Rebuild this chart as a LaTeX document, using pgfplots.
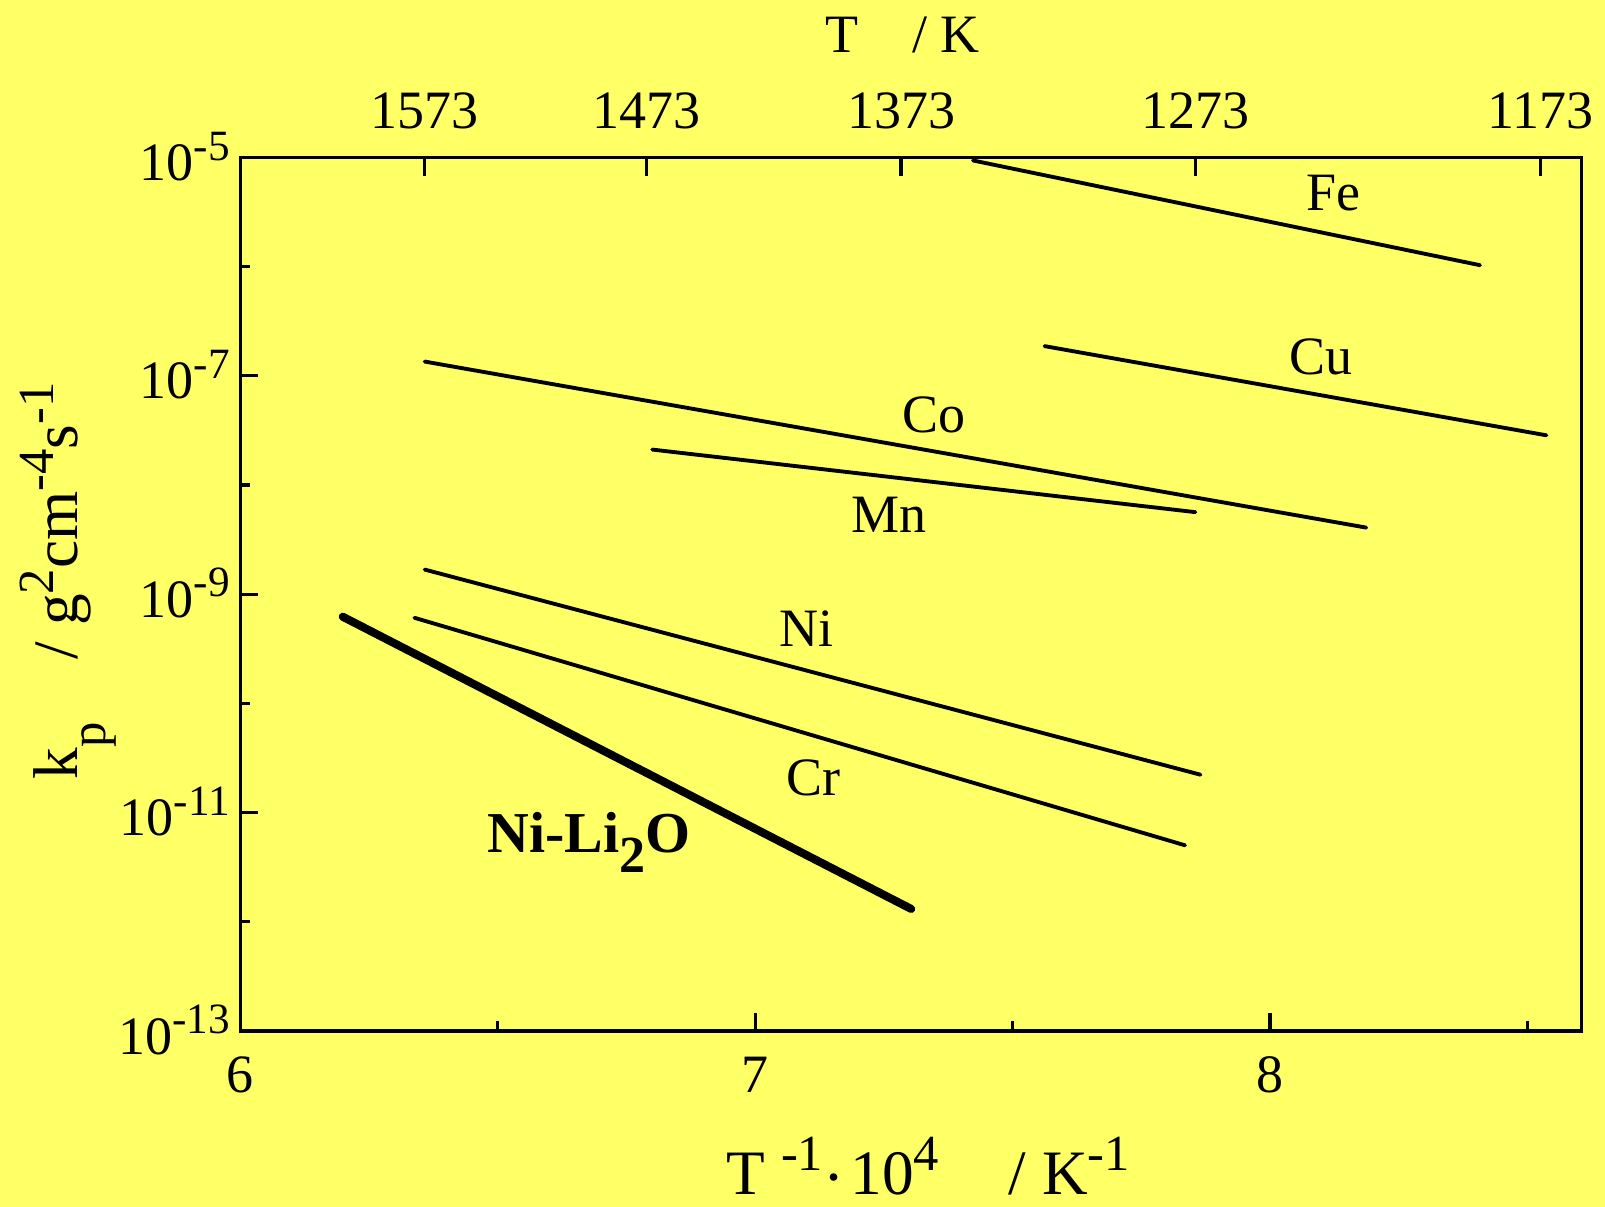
\documentclass[border=0pt]{standalone}
\usepackage{fontspec}
\setmainfont{Liberation Serif}
\usepackage{graphicx}
\usepackage{pgfplots}
\pgfplotsset{compat=1.18}
\definecolor{bg}{RGB}{255,255,102}
\newcommand{\sups}[1]{\raisebox{0.38em}{\scalebox{0.8}{#1}}}
\newcommand{\tp}[1]{10\sups{#1}}
\begin{document}
\fontsize{14}{16}\selectfont
\begin{tikzpicture}
\fill[bg] (-62.3pt,-45.6pt) rectangle (353.7pt,267.2pt);
\begin{axis}[
  scale only axis, width=347.6pt, height=226.4pt,
  xmin=6, xmax=8.605, ymode=log, ymin=1e-13, ymax=1e-5,
  tick pos=left, tick align=inside,
  major tick length=4.7pt, minor tick length=2.5pt,
  xtick={6,7,8}, xticklabels={6,7,8}, minor xtick={6.5,7.5,8.5},
  ytick={1e-13,1e-11,1e-9,1e-7,1e-5},
  yticklabels={\tp{-13},\tp{-11},\tp{-9},\tp{-7},\tp{-5}},
  minor ytick={1e-12,1e-10,1e-8,1e-6},
  axis line style={line width=0.85pt},
  every tick/.style={line width=0.85pt, black},
  xticklabel style={anchor=base, yshift=-15.9pt, inner sep=0pt},
  yticklabel style={anchor=base east, xshift=-2.5pt, yshift=-6pt, inner sep=0pt},
  xlabel={T\hspace{0.25em}\sups{-1}\raisebox{-0.06em}{·}\hspace{0.1em}10\sups{4}\hspace{1.1em}/ K\sups{-1}},
  xlabel style={at={(axis description cs:0.513,-0.187)}, anchor=base, inner sep=0pt, font=\fontsize{16.4}{18}\selectfont},
  ylabel={k\raisebox{-0.45em}{\scalebox{0.8}{p}}\hspace{1em}/ g\sups{2}cm\sups{-4}s\sups{-1}},
  ylabel style={at={(axis description cs:-0.1217,0.515)}, anchor=base, inner sep=0pt, font=\fontsize{16.4}{18}\selectfont},
  clip=false,
]
\addplot[black, line width=1pt, line cap=round] coordinates {(7.423,9.38e-6) (8.408,1.03e-6)};
\addplot[black, line width=1pt, line cap=round] coordinates {(7.562,1.87e-7) (8.537,2.85e-8)};
\addplot[black, line width=1pt, line cap=round] coordinates {(6.358,1.35e-7) (8.187,4.07e-9)};
\addplot[black, line width=1pt, line cap=round] coordinates {(6.800,2.11e-8) (7.855,5.64e-9)};
\addplot[black, line width=1pt, line cap=round] coordinates {(6.358,1.68e-9) (7.865,2.22e-11)};
\addplot[black, line width=1pt, line cap=round] coordinates {(6.338,6.08e-10) (7.835,5.01e-12)};
\addplot[black, line width=2.1pt, line cap=round] coordinates {(6.199,6.21e-10) (7.303,1.31e-12)};
\node[anchor=base, inner sep=0pt] at (axis cs:8.123,3.25e-6) {Fe};
\node[anchor=base, inner sep=0pt] at (axis cs:8.099,1.02e-7) {Cu};
\node[anchor=base, inner sep=0pt] at (axis cs:7.347,3.05e-8) {Co};
\node[anchor=base, inner sep=0pt] at (axis cs:7.260,3.66e-9) {Mn};
\node[anchor=base, inner sep=0pt] at (axis cs:7.099,3.32e-10) {Ni};
\node[anchor=base, inner sep=0pt] at (axis cs:7.114,1.445e-11) {Cr};
\node[anchor=base, inner sep=0pt, font=\fontsize{15}{17}\selectfont\bfseries] at (axis cs:6.677,4.31e-12) {Ni-Li\raisebox{-0.35em}{\scalebox{0.9}{2}}O};
\end{axis}
\begin{axis}[
  scale only axis, width=347.6pt, height=226.4pt,
  xmin=6, xmax=8.605, ymin=0, ymax=1,
  axis x line*=top, hide y axis,
  tick align=inside, major tick length=4.7pt,
  xtick={6.3573,6.7889,7.2833,7.8555,8.5251},
  xticklabels={1573,1473,1373,1273,1173},
  axis line style={line width=0.85pt},
  every tick/.style={line width=0.85pt, black},
  xticklabel style={anchor=base, yshift=7.6pt, inner sep=0pt},
  xlabel={T\hspace{1em}/ K},
  xlabel style={at={(axis description cs:0.4938,1.1206)}, anchor=base, inner sep=0pt},
]
\end{axis}
\pgfresetboundingbox
\path (-62.3pt,-45.6pt) rectangle (353.7pt,267.2pt);
\end{tikzpicture}
\end{document}
